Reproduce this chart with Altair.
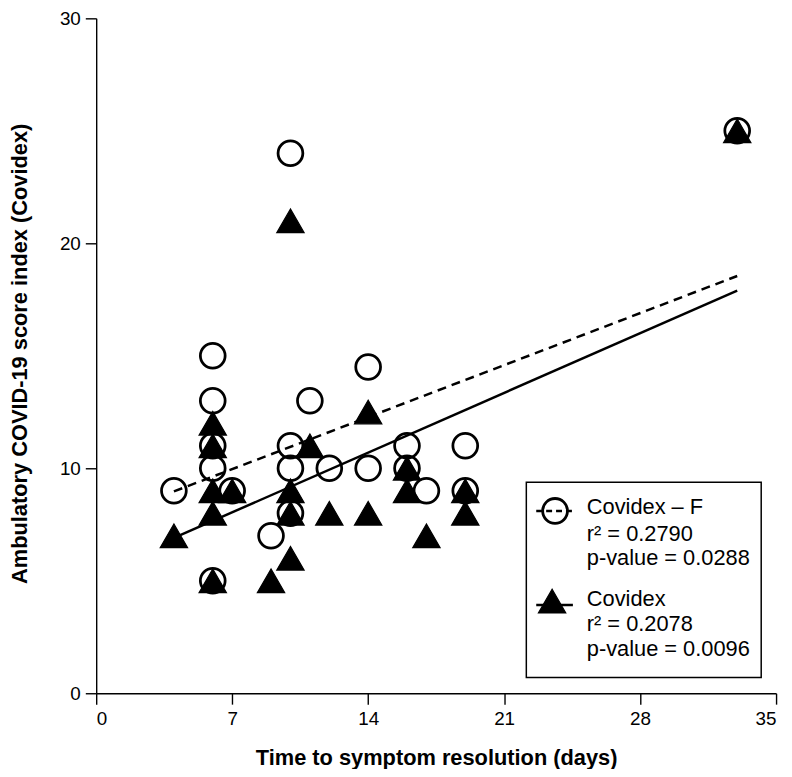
import altair as alt
import pandas as pd

# ---- data ----
days = [4, 6, 6, 6, 6, 6, 7, 9, 10, 10, 10, 10, 11, 12, 14, 14, 16, 16, 17, 19, 19, 33]
covidex_f = [9, 15, 13, 11, 10, 5, 9, 7, 24, 11, 10, 8, 13, 10, 14.5, 10, 11, 10, 9, 11, 9, 25]
covidex = [7, 12, 11, 9, 8, 5, 9, 5, 21, 9, 8, 6, 11, 8, 12.5, 8, 10, 9, 7, 9, 8, 25]
x_ticks = [0, 7, 14, 21, 28, 35]
y_ticks = [0, 10, 20, 30]
legend_f = ["Covidex \u2013 F", "r\u00b2 = 0.2790", "p-value = 0.0288"]
legend_c = ["Covidex", "r\u00b2 = 0.2078", "p-value = 0.0096"]
x_title = "Time to symptom resolution (days)"
y_title = "Ambulatory COVID-19 score index (Covidex)"

FONT = "Liberation Sans"
TOP = 7
W, H = 686, 681

df = pd.DataFrame({"days": days, "cf": covidex_f, "c": covidex})

xscale = alt.Scale(domain=[0, 35], nice=False, zero=False)
yscale = alt.Scale(domain=[0, 30], nice=False)


def xaxis():
    return alt.Axis(values=x_ticks, title=x_title, grid=False, tickSize=11, labelPadding=6,
                    titleX=343, titleY=72, titleBaseline="alphabetic", titleAnchor="middle")


def yaxis():
    return alt.Axis(values=y_ticks, title=y_title, grid=False, tickSize=11, labelPadding=5,
                    titleX=-70, titleY=338, titleBaseline="alphabetic", titleAnchor="middle")


def X():
    return alt.X("days:Q", scale=xscale, axis=xaxis())


base = alt.Chart(df)

circles = base.mark_point(shape="circle", filled=False, size=625, strokeWidth=2.8,
                          color="black", opacity=1).encode(
    x=X(), y=alt.Y("cf:Q", scale=yscale, axis=yaxis()),
)

line_f = base.transform_regression("days", "cf").mark_line(
    color="black", strokeWidth=2.5, strokeDash=[9, 6]).encode(
    x=X(), y=alt.Y("cf:Q", scale=yscale, axis=yaxis()),
)

line_c = base.transform_regression("days", "c").mark_line(
    color="black", strokeWidth=2.5).encode(
    x=X(), y=alt.Y("c:Q", scale=yscale, axis=yaxis()),
)

triangles = base.mark_point(shape="triangle-up", filled=True, size=760, color="black",
                            stroke="black", strokeWidth=1.2, opacity=1).encode(
    x=X(), y=alt.Y("c:Q", scale=yscale, axis=yaxis()),
)

# ---- legend (annotation box), pixel offsets from the plot's top-left corner ----
one = pd.DataFrame({"k": [0]})
oy = 4 - TOP
box = alt.Chart(one).mark_rect(filled=False, stroke="black", strokeWidth=1.5).encode(
    x=alt.value(434), x2=alt.value(671), y=alt.value(471 + oy), y2=alt.value(668 + oy))
sym_line_f = alt.Chart(one).mark_rule(color="black", strokeWidth=2.5, strokeDash=[6, 4]).encode(
    x=alt.value(444), x2=alt.value(482), y=alt.value(500 + oy))
sym_f = alt.Chart(one).mark_point(shape="circle", filled=False, size=625, strokeWidth=2.8,
                                  color="black", opacity=1).encode(
    x=alt.value(463), y=alt.value(500 + oy))
sym_line_c = alt.Chart(one).mark_rule(color="black", strokeWidth=2.5).encode(
    x=alt.value(444), x2=alt.value(481), y=alt.value(595 + oy))
sym_c = alt.Chart(one).mark_point(shape="triangle-up", filled=True, size=760, color="black",
                                  stroke="black", strokeWidth=1.2, opacity=1).encode(
    x=alt.value(460), y=alt.value(591 + oy))

texts = []
for lines, ys in ((legend_f, [503, 530, 555]), (legend_c, [596, 621, 646])):
    for t, yy in zip(lines, ys):
        texts.append(
            alt.Chart(pd.DataFrame({"t": [t]})).mark_text(
                align="left", baseline="alphabetic", fontSize=22, font=FONT, color="black"
            ).encode(text="t:N", x=alt.value(495), y=alt.value(yy + oy))
        )

chart = alt.layer(circles, line_f, line_c, triangles, box, sym_line_f, sym_f,
                  sym_line_c, sym_c, *texts).properties(
    width=W, height=H,
    autosize=alt.AutoSizeParams(type="none"),
    padding={"left": 89, "top": TOP, "right": 8, "bottom": 73},
    background="white",
).configure_view(stroke=None).configure_axis(
    domainColor="black", domainWidth=1.4, tickColor="black", tickWidth=1.4,
    labelFont=FONT, labelFontSize=19, labelColor="black",
    titleFont=FONT, titleFontSize=22, titleFontWeight="bold", titleColor="black",
)

chart.save("out.html", embed_options={"renderer": "svg", "actions": False})
